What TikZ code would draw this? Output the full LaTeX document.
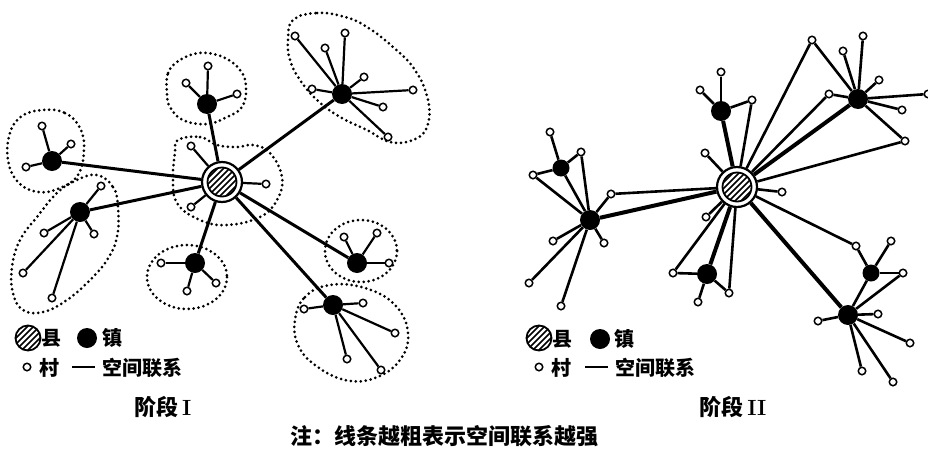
\documentclass[tikz,border=0pt]{standalone}
\usepackage{fontspec}
\newfontfamily\cjk{Noto Sans CJK SC}
\usetikzlibrary{backgrounds}
\newcommand\myhatch{\foreach \k in {-6,...,6}{\draw[line width=1.5pt] (\k*6pt-30pt,-30pt) -- ++(60pt,60pt);}}
\tikzset{
  village/.style={circle, draw, line width=1.5pt, fill=white, minimum size=7.5pt, inner sep=0pt},
  town/.style={circle, fill=black, minimum size=20pt, inner sep=0pt},
  smalltown/.style={town, minimum size=17pt},
  county/.style={circle, draw, line width=2.2pt, fill=white, minimum size=40pt, inner sep=0pt,
    path picture={\begin{scope}[shift={(path picture bounding box.center)}]
      \draw[line width=1.8pt] (0,0) circle[radius=14.5pt];
      \clip (0,0) circle[radius=14.5pt];
      \myhatch
    \end{scope}}},
  legcounty/.style={circle, draw, line width=1.8pt, fill=white, minimum size=25pt, inner sep=0pt,
    path picture={\begin{scope}[shift={(path picture bounding box.center)}]\myhatch\end{scope}}},
  lk/.style={line width=2.2pt},
  lkb/.style={line width=2.6pt},
  mainlk/.style={line width=3pt},
  thicklk/.style={line width=4pt},
  zone/.style={line width=3pt, dash pattern=on 0pt off 5pt, line cap=round},
  lbl/.style={font=\cjk\bfseries\fontsize{20}{20}\selectfont, inner sep=0pt},
  ttl/.style={font=\cjk\bfseries\fontsize{22}{22}\selectfont, inner sep=0pt},
}
\begin{document}
\begin{tikzpicture}[x=1pt,y=-1pt]
\useasboundingbox (0,0) rectangle (928,450);
% ---------------- Panel I ----------------
\node[county] (C1) at (222,182) {};
\foreach \n/\x/\y in {T1/207/104, T2/342/94, T3/52/161, T4/80/212, T5/195/263, T6/357/263, T7/333/305}
  \node[town] (\n) at (\x,\y) {};
\foreach \n/\x/\y in {a1/191/146, a2/266/184, a3/191/207,
  b1/208/66, b2/186/83, b3/237/94,
  c1/295/36, c2/325/48, c3/345/33, c4/364/77, c5/312/89, c6/413/90, c7/383/107, c8/388/137,
  d1/42/126, d2/71/144, d3/26/167,
  e1/101/186, e2/44/233, e3/94/234, e4/23/273, e5/52/298,
  f1/161/263, f2/187/291, f3/216/283,
  g1/344/237, g2/377/233, g3/389/263,
  h1/304/309, h2/363/303, h3/395/333, h4/347/359, h5/381/370}
  \node[village] (\n) at (\x,\y) {};
% zones
\draw[zone] plot[smooth cycle, tension=0.7] coordinates {(167,93) (168,73) (180,60) (200,53) (223,57) (240,70) (246,87) (242,107) (227,117) (207,124) (183,120) (170,107)};
\draw[zone] plot[smooth cycle, tension=0.7] coordinates {(293,20) (317,13) (345,17) (367,27) (393,47) (415,70) (428,100) (427,127) (413,140) (390,142) (367,130) (340,117) (317,100) (300,80) (290,60) (288,40)};
\draw[zone] plot[smooth cycle, tension=0.7] coordinates {(43,110) (65,113) (80,128) (84,150) (78,175) (60,188) (38,192) (18,182) (8,160) (10,133) (22,116)};
\draw[zone] plot[smooth cycle, tension=0.7] coordinates {(97,175) (113,187) (118,207) (117,237) (107,260) (90,280) (67,300) (43,312) (23,310) (13,293) (12,267) (20,240) (37,217) (57,193) (77,180)};
\draw[zone] plot[smooth cycle, tension=0.7] coordinates {(178,140) (200,137) (217,145) (237,147) (253,145) (270,153) (282,177) (277,200) (260,217) (227,225) (200,220) (177,203) (173,177) (175,153)};
\draw[zone] (187,277) ellipse[x radius=40, y radius=32];
\draw[zone] (361,251) ellipse[x radius=36, y radius=31];
\draw[zone] plot[smooth cycle, tension=0.7] coordinates {(295,320) (305,297) (330,285) (365,288) (395,305) (408,333) (400,360) (375,378) (345,380) (315,365) (298,345)};
% ---------------- Panel II ----------------
\node[county] (C2) at (737,187) {};
\foreach \n/\x/\y in {U1/721/111, U2/858/99, U4/590/220, U5/707/274, U7/848/315}
  \node[town] (\n) at (\x,\y) {};
\node[smalltown] (U3) at (561,168) {};
\node[smalltown] (U6) at (871,273) {};
\foreach \n/\x/\y in {p1/705/153, p2/782/192, p3/706/217,
  q1/721/72, q2/700/90, q3/752/100, r/812/40,
  s1/863/36, s2/843/51, s3/879/80, s4/829/94, s5/902/110, s6/905/141, s7/928/94,
  t1/550/132, t2/581/152, t3/533/175,
  u1/611/194, u2/553/241, u3/604/243, u4/529/283, u5/561/306,
  v1/673/273, v2/698/302, v3/729/293,
  w1/856/246, w2/891/241, w3/903/273,
  x1/818/321, x2/878/314, x3/910/343, x4/862/371, x5/893/382}
  \node[village] (\n) at (\x,\y) {};
% ---------------- connectors ----------------
\begin{pgfonlayer}{background}
\foreach \a/\b in {C1/T1, C1/T2, C1/T3, C1/T4, C1/T5, C1/T6, C1/T7}
  \draw[mainlk] (\a) -- (\b);
\foreach \a/\b in {C1/a1, C1/a2, C1/a3, T1/b1, T1/b2, T1/b3,
  T2/c1, T2/c2, T2/c3, T2/c4, T2/c5, T2/c6, T2/c7, T2/c8,
  T3/d1, T3/d2, T3/d3, T4/e1, T4/e2, T4/e3, T4/e4, T4/e5,
  T5/f1, T5/f2, T5/f3, T6/g1, T6/g2, T6/g3,
  T7/h1, T7/h2, T7/h3, T7/h4, T7/h5}
  \draw[lk] (\a) -- (\b);
\foreach \a/\b in {C2/U1, C2/U2, C2/U4, C2/U5, C2/U7}
  \draw[thicklk] (\a) -- (\b);
\foreach \a/\b in {C2/p1, C2/p2, C2/p3, U1/q1, U1/q2, U1/q3, C2/q3, C2/r, U2/r,
  U2/s1, U2/s2, U2/s3, U2/s4, U2/s5, U2/s6, U2/s7, C2/s4, C2/s6,
  U3/t1, U3/t2, U3/t3, U3/U4, U4/t2, U4/t3,
  U4/u1, U4/u2, U4/u3, U4/u4, U4/u5, C2/u1,
  U5/v1, U5/v2, U5/v3, C2/v1, C2/v3,
  U6/w1, U6/w2, U6/w3, C2/w1, U6/U7, U7/w3,
  U7/x1, U7/x2, U7/x3, U7/x4, U7/x5}
  \draw[lkb] (\a) -- (\b);
\end{pgfonlayer}
% ---------------- legends ----------------
\node[legcounty] (lc1) at (28,338) {};
\node[lbl] (lt1) at (51,338) {县};
\node[town] (lb1) at (87,338) {};
\node[lbl] (lt2) at (112,338) {镇};
\node[village] (lv1) at (27,367) {};
\node[lbl] (lt3) at (49,368) {村};
\coordinate (ll1a) at (72,367); \coordinate (ll1b) at (95,367);
\draw[line width=2.4pt] (ll1a) -- (ll1b);
\node[lbl] (lt4) at (142,368) {空间联系};
\node[legcounty] (lc2) at (539,338) {};
\node[lbl] (lt5) at (562,339) {县};
\node[town] (lb2) at (600,339) {};
\node[lbl] (lt6) at (624,339) {镇};
\node[village] (lv2) at (539,367) {};
\node[lbl] (lt7) at (561,368) {村};
\coordinate (ll2a) at (585,367); \coordinate (ll2b) at (608,367);
\draw[line width=2.4pt] (ll2a) -- (ll2b);
\node[lbl] (lt8) at (655,368) {空间联系};
% ---------------- titles ----------------
\node[ttl] (ti1) at (163,407) {阶段\,{\rmfamily\bfseries I}};
\node[ttl] (ti2) at (733,407) {阶段\,{\rmfamily\bfseries II}};
\node[ttl] (note) at (444,436) {注：线条越粗表示空间联系越强};
\end{tikzpicture}
\end{document}
